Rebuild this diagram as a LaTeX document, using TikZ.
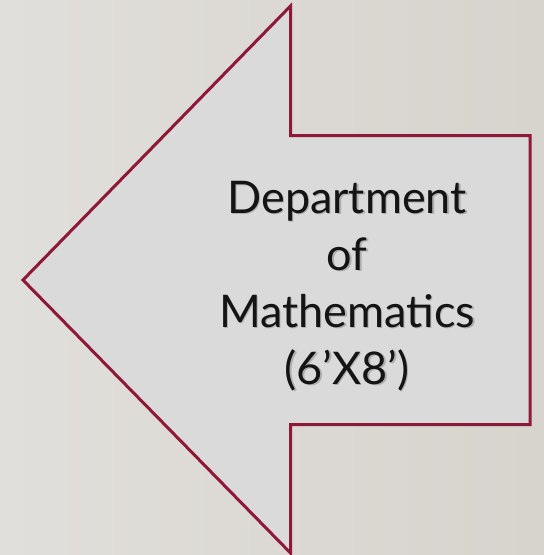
\documentclass[tikz,border=0pt]{standalone}
\usepackage{fontspec}
\setmainfont{Lato}
\usetikzlibrary{positioning}
\definecolor{granate}{HTML}{8E1838}
\definecolor{grisfondoA}{HTML}{E1DFDB}
\definecolor{grisfondoB}{HTML}{D7D3CD}
\definecolor{grisflecha}{HTML}{DADADA}
\colorlet{colBorde}{granate}
\colorlet{colRelleno}{grisflecha}
\tikzset{
  flechaGrande/.style={
    draw=colBorde, line width=3pt, line join=miter,
    fill=colRelleno
  },
  textoDepto/.style={
    align=center, text=black!92, inner sep=0pt,
    font=\fontsize{45}{57}\selectfont
  },
  sombraTexto/.style={textoDepto, text=black!70, opacity=0.3},
}
\begin{document}
\begin{tikzpicture}[x=1pt, y=-1pt]
    % fondo
    \shade[left color=grisfondoA, right color=grisfondoB] (0,0) rectangle (544,555);
    \useasboundingbox (0,0) rectangle (544,555);

    % flecha hacia la izquierda
    \draw[flechaGrande] (23,280) -- (290.5,6) -- (290.5,135.5) -- (530,135.5)
      -- (530,424.5) -- (290.5,424.5) -- (290.5,553) -- cycle;

    % texto con sombra suave
    \node[sombraTexto] (sombra) at (348.5,287.5) {Department\\of\\Mathematics\\(6’X8’)};
    \node[textoDepto] (depto) at (347,286) {Department\\of\\Mathematics\\(6’X8’)};
  \end{tikzpicture}
\end{document}
